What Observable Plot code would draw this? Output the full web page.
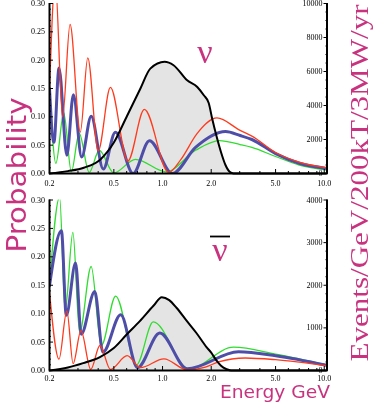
<!DOCTYPE html>
<html><head><meta charset="utf-8">
<script src="https://cdn.jsdelivr.net/npm/d3@7"></script>
<script src="https://cdn.jsdelivr.net/npm/@observablehq/plot@0.6"></script>
<style>
body{margin:0;background:#fff;}
#wrap{position:relative;width:374px;height:402px;overflow:hidden;background:#fff;}
#wrap svg{position:absolute;left:0;will-change:transform;}
</style></head><body><div id="wrap"></div>
<script>
// ---- axes / ticks ----
const xDomain = [0.2, 10.4];
const xTicks = [0.2, 0.5, 1, 2, 5, 10];
const xMinor = [0.3, 0.4, 0.6, 0.7, 0.8, 0.9, 3, 4, 6, 7, 8, 9];
const probDomain = [0, 0.3];
const probTicks = [0, 0.05, 0.1, 0.15, 0.2, 0.25, 0.3];
const nuEvMax = 10000;
const nuEvTicks = [0, 2000, 4000, 6000, 8000, 10000];
const barEvMax = 4000;
const barEvTicks = [0, 1000, 2000, 3000, 4000];

// ---- neutrino panel (E GeV, probability) ----
const nuRed = [[0.2,0.146],[0.217,0.34],[0.241,0.10],[0.268,0.263],[0.31,0.073],[0.345,0.204],[0.40,0.04],[0.476,0.152],[0.61,0.022],[0.772,0.113],[1.09,0.002],[1.3,0.025],[1.63,0.07],[2.17,0.098],[3.02,0.076],[3.57,0.066],[5,0.037],[7,0.02],[10.4,0.01]];
const nuBlue = [[0.2,0.15],[0.213,0.055],[0.229,0.186],[0.256,0.032],[0.281,0.139],[0.316,0.029],[0.362,0.101],[0.43,0.008],[0.511,0.073],[0.658,0.0],[0.83,0.058],[1.15,0.0],[1.6,0.046],[2.45,0.074],[3.02,0.067],[3.57,0.06],[5,0.035],[7,0.018],[10.4,0.009]];
const nuGreen = [[0.2,0.155],[0.219,0.018],[0.245,0.107],[0.273,0.003],[0.305,0.071],[0.352,0.002],[0.406,0.041],[0.499,0.001],[0.68,0.025],[1.05,0.003],[1.6,0.041],[2.25,0.058],[3.02,0.051],[3.57,0.046],[5,0.03],[7,0.015],[10.4,0.006]];
// events / GeV
const nuFlux = [[0.2,0],[0.26,140],[0.326,338],[0.413,830],[0.5,1820],[0.604,3400],[0.73,5000],[0.84,6170],[1.03,6570],[1.17,6370],[1.42,5480],[1.64,5090],[1.8,4600],[1.93,4150],[2.03,3200],[2.17,2100],[2.3,1250],[2.45,500],[2.6,100],[2.75,0],[10.4,0]];

// ---- antineutrino panel ----
const barRed = [[0.2,0.138],[0.229,0.02],[0.256,0.105],[0.28,0.012],[0.313,0.07],[0.36,0.002],[0.41,0.044],[0.476,0.002],[0.604,0.026],[0.73,0.005],[1.02,0.0205],[1.42,0.001],[1.84,0.006],[2.22,0.015],[3.25,0.022],[5,0.019],[10.4,0.008]];
const barBlue = [[0.2,0.149],[0.237,0.246],[0.254,0.097],[0.29,0.189],[0.314,0.064],[0.381,0.139],[0.428,0.032],[0.551,0.098],[0.7,0.005],[0.962,0.066],[1.42,0.003],[2.95,0.033],[5,0.026],[10.4,0.009]];
const barGreen = [[0.2,0.15],[0.231,0.305],[0.25,0.105],[0.279,0.243],[0.307,0.067],[0.362,0.183],[0.418,0.044],[0.513,0.131],[0.69,0.01],[0.876,0.0855],[1.45,0.003],[2.75,0.041],[5,0.029],[10.4,0.01]];
const barFlux = [[0.2,0],[0.26,70],[0.323,172],[0.41,315],[0.5,527],[0.6,843],[0.724,1158],[0.876,1512],[0.99,1720],[1.1,1650],[1.22,1472],[1.4,1180],[1.62,880],[1.87,550],[2.0,420],[2.16,230],[2.3,110],[2.49,30],[2.65,0],[10.4,0]];

const MAGENTA = "#c8327f";
const probMinor = d3.range(0, 0.3001, 0.01).filter(v => Math.abs(v / 0.05 - Math.round(v / 0.05)) > 1e-6);

function panel(cfg) {
  const k = probDomain[1] / cfg.evMax;
  const flux = cfg.flux.map(([e, v]) => ({e, p: v * k}));
  const pts = a => a.map(([e, p]) => ({e, p}));
  const line = (a, stroke, sw) => Plot.line(pts(a), {x: "e", y: "p", stroke, strokeWidth: sw, curve: "monotone-x", clip: true});
  const evMinor = d3.range(0, cfg.evMax + 1, cfg.evMinorStep).filter(v => !cfg.evTicks.includes(v));
  const ax = {color: "black", label: null};
  return Plot.plot({
    width: 374, height: 190,
    marginLeft: 49, marginRight: 47.5, marginTop: cfg.mt, marginBottom: cfg.mb,
    x: {type: "log", domain: xDomain},
    y: {domain: probDomain},
    style: {fontFamily: "'Liberation Serif', serif", fontSize: "8px", background: "transparent", color: "black", overflow: "visible"},
    marks: [
      Plot.areaY(flux, {x: "e", y: "p", fill: "#e4e4e4", curve: "monotone-x"}),
      line(cfg.green, "#2fdc2f", 1.3),
      line(cfg.blue, "#4e4ea8", 3),
      line(cfg.red, "#ff3a1c", 1.3),
      Plot.line(flux, {x: "e", y: "p", stroke: "black", strokeWidth: 2, curve: "monotone-x"}),
      Plot.ruleX([xDomain[0], xDomain[1]], {strokeWidth: 2}),
      Plot.ruleY([probDomain[0]], {strokeWidth: 2}),
      Plot.axisX({...ax, ticks: xTicks, tickFormat: d => d.toFixed(1), tickSize: -4, tickPadding: cfg.xPad}),
      Plot.axisX({...ax, ticks: xMinor, tickFormat: () => "", tickSize: -2}),
      Plot.axisY({...ax, ticks: probTicks, tickFormat: d => d.toFixed(2), tickSize: -4, tickPadding: 8.5}),
      Plot.axisY({...ax, ticks: probMinor, tickFormat: () => "", tickSize: -2}),
      Plot.axisY({...ax, anchor: "right", ticks: cfg.evTicks.map(v => v * k), tickFormat: d => String(Math.round(d / k)), tickSize: -4, tickPadding: -0.5, textAnchor: "end"}),
      Plot.axisY({...ax, anchor: "right", ticks: evMinor.map(v => v * k), tickFormat: () => "", tickSize: -2})
    ]
  });
}

const wrap = document.getElementById("wrap");
const top1 = panel({red: nuRed, blue: nuBlue, green: nuGreen, flux: nuFlux, evMax: nuEvMax, evTicks: nuEvTicks, evMinorStep: 500, mt: 3, mb: 17, xPad: 10.5});
top1.style.top = "0px";
wrap.appendChild(top1);
const bot = panel({red: barRed, blue: barBlue, green: barGreen, flux: barFlux, evMax: barEvMax, evTicks: barEvTicks, evMinorStep: 200, mt: 3.5, mb: 16, xPad: 8.5});
bot.style.top = "196px";
wrap.appendChild(bot);

// ---- text overlay ----
const ov = d3.create("svg").attr("width", 374).attr("height", 402).style("top", "0px");
ov.append("text").text("Probability")
  .attr("transform", "translate(25.5,175) rotate(-90)")
  .attr("text-anchor", "middle").attr("font-family", "'DejaVu Sans', sans-serif")
  .attr("font-size", 26).attr("fill", MAGENTA).attr("textLength", 155).attr("lengthAdjust", "spacingAndGlyphs");
ov.append("text").text("Events/GeV/200kT/3MW/yr")
  .attr("transform", "translate(368,183) rotate(-90)")
  .attr("text-anchor", "middle").attr("font-family", "'Liberation Serif', serif")
  .attr("font-size", 25).attr("fill", MAGENTA).attr("textLength", 357).attr("lengthAdjust", "spacingAndGlyphs");
ov.append("text").text("Energy GeV")
  .attr("x", 275).attr("y", 397.5)
  .attr("text-anchor", "middle").attr("font-family", "'DejaVu Sans', sans-serif")
  .attr("font-size", 17).attr("fill", MAGENTA).attr("textLength", 110).attr("lengthAdjust", "spacingAndGlyphs");
ov.append("text").text("ν")
  .attr("x", 205).attr("y", 63)
  .attr("text-anchor", "middle").attr("font-family", "'Liberation Serif', serif")
  .attr("font-size", 34).attr("fill", MAGENTA);
ov.append("text").text("ν")
  .attr("x", 220).attr("y", 261)
  .attr("text-anchor", "middle").attr("font-family", "'Liberation Serif', serif")
  .attr("font-size", 34).attr("fill", MAGENTA);
ov.append("line").attr("x1", 210).attr("x2", 230).attr("y1", 236.5).attr("y2", 236.5)
  .attr("stroke", "black").attr("stroke-width", 1.8);
wrap.appendChild(ov.node());
</script></body></html>
